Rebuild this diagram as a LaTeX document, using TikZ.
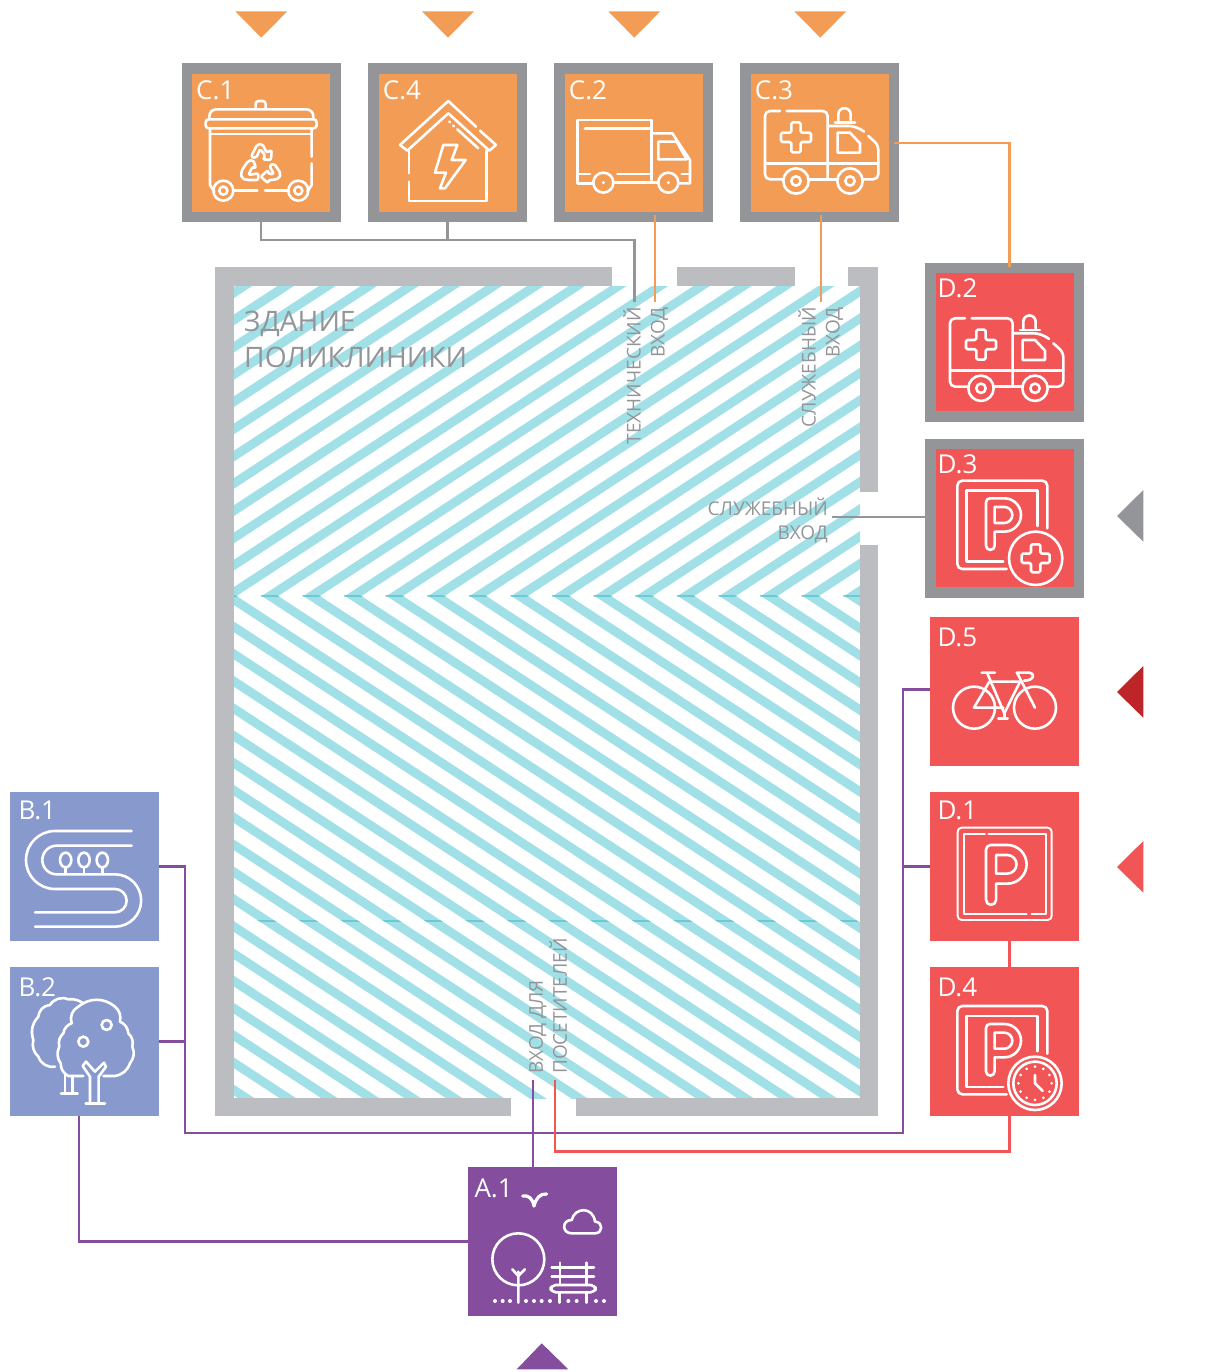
\documentclass[tikz,border=0pt]{standalone}
\usepackage{fontspec}
\setmainfont{Open Sans}
\usepackage{tikz}
\usetikzlibrary{positioning}
\definecolor{ClinicGrey}{HTML}{939598}
\definecolor{ClinicWall}{HTML}{BCBDC1}
\definecolor{ClinicCyan}{HTML}{A0E0E6}
\definecolor{ClinicSeam}{HTML}{6CCAD4}
\definecolor{ClinicOrange}{HTML}{F39C55}
\definecolor{ClinicRed}{HTML}{F15555}
\definecolor{ClinicDeep}{HTML}{BE2528}
\definecolor{ClinicBlue}{HTML}{8899CE}
\definecolor{ClinicViolet}{HTML}{844D9E}

% stripes of the building, #1 is the style
\newcommand{\stripesup}[1]{\foreach \k in {-13,...,15}
  \draw[#1] ({270+41.6*\k-30},{596+30*.655}) -- ({270+41.6*\k+510},{596-510*.655});}
\newcommand{\stripesdown}[1]{\foreach \k in {-21,...,15}
  \draw[#1] ({270+41.6*\k-30},{596-30*.655}) -- ({270+41.6*\k+800},{596+800*.655});}
% plus sign: centre x, centre y, half width, half length
\newcommand{\plusico}[4]{\begin{scope}[shift={(#1,#2)}]
  \draw[ico,rounded corners=1.5pt] (-#3,-#4) -- (#3,-#4) -- (#3,-#3) -- (#4,-#3) -- (#4,#3) -- (#3,#3)
    -- (#3,#4) -- (-#3,#4) -- (-#3,#3) -- (-#4,#3) -- (-#4,-#3) -- (-#3,-#3) -- cycle;
\end{scope}}
% parking letter: left, top, scale
\newcommand{\parkico}[3]{\begin{scope}[shift={(#1,#2)},scale=#3]
  \draw[ico] (0,142) arc[start angle=180,end angle=0,radius=13] -- (26,100) -- (55,100)
    arc[start angle=90,end angle=-90,radius=50] -- (12,0) arc[start angle=-90,end angle=-180,radius=12] -- cycle;
  \draw[ico] (26,26) -- (55,26) arc[start angle=-90,end angle=90,radius=24] -- (26,74) -- cycle;
\end{scope}}
% frame of the parking icons with a badge
\newcommand{\parkframe}[1]{\begin{scope}[shift={(0,#1)}]
  \draw[ico,rounded corners=5pt] (320,957) -- (172,957) -- (172,692) -- (442,692) -- (442,835);
  \draw[ico] (310,935) -- (200,935) -- (200,722) -- (412,722) -- (412,828);
\end{scope}}
\newcommand{\ambulanceico}{
  \draw[ico,rounded corners=5pt] (720,333) -- (675,333) -- (675,538) -- (730,538);
  \draw[ico,rounded corners=5pt] (740,333) -- (863,333) -- (863,535);
  \draw[ico] (678,490) -- (1015,490);
  \draw[ico] (808,538) -- (890,538);
  \draw[ico,rounded corners=5pt] (970,538) -- (1015,538) -- (1015,435) -- (985,408);
  \draw[ico,rounded corners=8pt] (863,378) -- (950,378) -- (972,395);
  \draw[ico] (893,398) -- (930,398) -- (960,430) -- (960,458) -- (893,458) -- cycle;
  \draw[ico] (885,368) -- (945,368);
  \draw[ico] (895,366) -- (895,343) arc[start angle=180,end angle=360,radius=18.5] -- (932,366);
  \draw[ico] (768,543) circle[radius=38] (768,543) circle[radius=14];
  \draw[ico] (930,543) circle[radius=38] (930,543) circle[radius=14];
  \plusico{768}{412}{14}{45}
}

\begin{document}
\begin{tikzpicture}[x=1pt,y=-1pt]
  \tikzset{
    stripe/.style={draw=ClinicCyan,line width=9pt},
    seam/.style={draw=ClinicSeam,line width=9pt},
    wall/.style={fill=ClinicWall},
    framebox/.style={draw=ClinicGrey,line width=10.5pt,minimum size=148.5pt,inner sep=0pt},
    plainbox/.style={minimum size=149pt,inner sep=0pt},
    tag/.style={text=white,font=\fontsize{26}{30}\selectfont,anchor=base west,inner sep=0pt},
    walltext/.style={text=ClinicGrey,inner sep=0pt,font=\fontsize{19}{24}\selectfont},
    ico/.style={draw=white,line width=2.6pt,line cap=round,line join=round},
    thin ico/.style={ico,line width=1.9pt},
    crop/.style 2 args={shift={(#1,#2)},x=.3333pt,y=-.3333pt},
    greyline/.style={draw=ClinicGrey,line width=2.7pt},
    orangeline/.style={draw=ClinicOrange,line width=2.7pt},
    violetline/.style={draw=ClinicViolet,line width=2.7pt},
    redline/.style={draw=ClinicRed,line width=2.7pt}
  }
  \useasboundingbox (0,0) rectangle (1211,1372);

  % building
  \begin{scope}
    \clip (234,286) rectangle (860,596);
    \stripesup{stripe}
  \end{scope}
  \begin{scope}
    \clip (234,596) rectangle (860,1098);
    \stripesdown{stripe}
  \end{scope}
  \begin{scope}
    \clip (234,595.5) rectangle (860,596.6);
    \stripesdown{seam}
  \end{scope}
  \begin{scope}
    \clip (234,920.6) rectangle (860,921.3);
    \stripesdown{seam}
  \end{scope}
  \fill[wall] (215,267) rectangle (612,286);
  \fill[wall] (677,267) rectangle (795,286);
  \fill[wall] (848,267) rectangle (877.5,286);
  \fill[wall] (215,267) rectangle (234,1116);
  \fill[wall] (859.5,267) rectangle (877.5,492);
  \fill[wall] (859.5,545) rectangle (877.5,1116);
  \fill[wall] (215,1098) rectangle (511,1116);
  \fill[wall] (576,1098) rectangle (877.5,1116);

  % boxes
  \node[framebox,fill=ClinicOrange] (c1) at (261,143) {};
  \node[framebox,fill=ClinicOrange] (c4) at (447.7,143) {};
  \node[framebox,fill=ClinicOrange] (c2) at (633.7,143) {};
  \node[framebox,fill=ClinicOrange] (c3) at (819.7,143) {};
  \node[framebox,fill=ClinicRed] (d2) at (1004.5,342.2) {};
  \node[framebox,fill=ClinicRed] (d3) at (1004.5,518.2) {};
  \node[plainbox,fill=ClinicRed] (d5) at (1004.5,691.5) {};
  \node[plainbox,fill=ClinicRed] (d1) at (1004.5,866.5) {};
  \node[plainbox,fill=ClinicRed] (d4) at (1004.5,1041.5) {};
  \node[plainbox,fill=ClinicBlue] (b1) at (84.5,866.5) {};
  \node[plainbox,fill=ClinicBlue] (b2) at (84.5,1041.5) {};
  \node[plainbox,fill=ClinicViolet] (a1) at (542.5,1241.5) {};

  \node[tag] (c1tag) at ([shift={(14.5,36)}]c1.north west) {C.1};
  \node[tag] (c4tag) at ([shift={(14.5,36)}]c4.north west) {C.4};
  \node[tag] (c2tag) at ([shift={(14.5,36)}]c2.north west) {C.2};
  \node[tag] (c3tag) at ([shift={(14.5,36)}]c3.north west) {C.3};
  \node[tag] (d2tag) at ([shift={(12.5,34.5)}]d2.north west) {D.2};
  \node[tag] (d3tag) at ([shift={(12.5,34.5)}]d3.north west) {D.3};
  \node[tag] (d5tag) at ([shift={(7.5,29.5)}]d5.north west) {D.5};
  \node[tag] (d1tag) at ([shift={(7.5,27.5)}]d1.north west) {D.1};
  \node[tag] (d4tag) at ([shift={(7.5,29.5)}]d4.north west) {D.4};
  \node[tag] (b1tag) at ([shift={(8.5,28)}]b1.north west) {B.1};
  \node[tag] (b2tag) at ([shift={(8.5,29.5)}]b2.north west) {B.2};
  \node[tag] (a1tag) at ([shift={(6.5,30.5)}]a1.north west) {A.1};

  % labels
  \node[text=ClinicGrey,inner sep=0pt,anchor=north west,align=left,font=\fontsize{28.2}{36}\selectfont]
    (house) at (244,311) {ЗДАНИЕ\\ПОЛИКЛИНИКИ};
  \node[walltext,rotate=90,anchor=north east,align=right] (techtext) at (623,307) {ТЕХНИЧЕСКИЙ\\ВХОД};
  \node[walltext,rotate=90,anchor=north east,align=right] (stafftext) at (798,307) {СЛУЖЕБНЫЙ\\ВХОД};
  \node[walltext,anchor=north east,align=right] (sidetext) at (828,498) {СЛУЖЕБНЫЙ\\ВХОД};
  \node[walltext,rotate=90,anchor=north west,align=left] (visittext) at (529,1074) {ВХОД ДЛЯ\\ПОСЕТИТЕЛЕЙ};

  % connectors
  \coordinate (techbus) at (634.5,240);
  \coordinate (techdoor) at (634.5,302);
  \coordinate (techorange) at (655,302);
  \coordinate (staffdoor) at (821,302);
  \coordinate (sidedoor) at (832,517);
  \coordinate (busleft) at (185,1133);
  \coordinate (busright) at (903,1133);
  \coordinate (visitdoor) at (533,1080);
  \coordinate (redcorner) at (555,1151.5);
  \coordinate (reddoor) at (555,1080);
  \draw[greyline] (c1.south) |- (techbus) -- (techdoor);
  \draw[greyline] (c4.south) -- (c4.south |- techbus);
  \draw[greyline] (sidedoor -| d3.west) -- (sidedoor);
  \draw[orangeline] ([shift={(21.3pt,7pt)}]c2.south) -- (techorange);
  \draw[orangeline] ([shift={(1.3pt,7pt)}]c3.south) -- (staffdoor);
  \draw[orangeline] ([xshift=-5pt]c3.east) -| ([shift={(4.7pt,-4pt)}]d2.north);
  \draw[violetline] (b1.east) -| (busleft) -- (busright) |- ([yshift=2pt]d5.west);
  \draw[violetline] (b2.east) -- (b2.east -| busleft);
  \draw[violetline] (d1.west) -- (d1.west -| busright);
  \draw[violetline] ([xshift=-9.5pt]a1.north) -- (visitdoor);
  \draw[violetline] ([xshift=-5.5pt]b2.south) |- (a1.west);
  \draw[redline] ([xshift=5pt]d1.south) -- ([xshift=5pt]d4.north);
  \draw[redline] ([xshift=5pt]d4.south) |- (redcorner) -- (reddoor);

  % entrance marks
  \foreach \x in {261.3,448,634.3,820.3}
    \fill[ClinicOrange] (\x-26,11.3) -- (\x+26,11.3) -- (\x,37.7) -- cycle;
  \fill[ClinicGrey] (1117,516) -- (1143.3,490) -- (1143.3,541.7) -- cycle;
  \fill[ClinicDeep] (1117,692) -- (1143.3,666) -- (1143.3,717.7) -- cycle;
  \fill[ClinicRed] (1117,867) -- (1143.3,841) -- (1143.3,892.7) -- cycle;
  \fill[ClinicViolet] (541.7,1343.3) -- (568.3,1369.3) -- (516.7,1369.3) -- cycle;

  % C.1 bin
  \begin{scope}[crop={170}{0}]
    \draw[ico,rounded corners=3pt] (257,327) -- (257,303) -- (287,303) -- (287,327);
    \draw[ico,rounded corners=7pt] (118,356) -- (118,328) -- (430,328) -- (430,356);
    \draw[ico,rounded corners=3pt] (107,358) rectangle (440,385);
    \draw[ico] (120,402) -- (425,402);
    \draw[ico] (120,385) -- (120,555) -- (133,575);
    \draw[ico] (425,385) -- (425,470) (425,490) -- (425,555) -- (412,575);
    \draw[ico] (160,572) circle[radius=30] (160,572) circle[radius=12];
    \draw[ico] (385,572) circle[radius=30] (385,572) circle[radius=12];
    \draw[ico] (190,572) -- (262,572) (285,572) -- (355,572);
    \draw[ico,rounded corners=2pt] (243,470) -- (262,433) -- (277,432) -- (290,458) -- (305,450) -- (303,480)
      -- (278,478) -- (287,468) -- (270,447) -- (258,475) -- cycle;
    \draw[ico,rounded corners=2pt] (235,482) -- (213,515) -- (215,535) -- (230,540) -- (265,540) -- (265,520)
      -- (235,525) -- (248,500) -- (258,505) -- (250,480) -- cycle;
    \draw[ico,rounded corners=2pt] (312,490) -- (332,520) -- (328,535) -- (310,540) -- (295,540) -- (295,550)
      -- (272,530) -- (295,510) -- (295,522) -- (312,522) -- (298,498) -- cycle;
  \end{scope}

  % C.4 house
  \begin{scope}[crop={170}{0}]
    \draw[ico] (918,380) -- (835,303) -- (690,435) -- (712,452) -- (835,340) -- (958,452) -- (978,435) -- (930,392);
    \draw[ico] (838,365) -- (840,367) (850,377) -- (852,379) (862,388) -- (925,445);
    \draw[ico] (717,450) -- (717,520) (717,545) -- (717,603) -- (950,603) -- (950,450);
    \draw[ico] (820,435) -- (862,435) -- (845,480) -- (887,480) -- (825,565) -- (810,565) -- (828,518) -- (795,518) -- cycle;
  \end{scope}

  % C.2 truck
  \begin{scope}[crop={540}{0}]
    \draw[ico] (160,550) -- (113,550) -- (113,360) -- (335,360) -- (335,540);
    \draw[ico] (135,385) -- (330,385);
    \draw[ico] (335,400) -- (397,400) -- (450,480) -- (450,550) -- (415,550);
    \draw[ico] (355,425) -- (410,425) -- (440,478) -- (355,478) -- cycle;
    \draw[ico] (115,522) -- (150,522) (232,522) -- (330,522) (425,522) -- (450,522);
    \draw[ico] (222,548) -- (355,548);
    \draw[ico] (190,548) circle[radius=30] (385,548) circle[radius=30];
    \fill[white] (190,548) circle[radius=5] (385,548) circle[radius=5];
  \end{scope}

  % C.3 and D.2 ambulance
  \begin{scope}[crop={540}{0}]
    \ambulanceico
  \end{scope}
  \begin{scope}[crop={725}{207.3}]
    \ambulanceico
  \end{scope}

  % D.3 parking with plus
  \begin{scope}[crop={900}{250}]
    \parkframe{0}
    \parkico{258}{745}{1}
    \draw[ico] (407,925) circle[radius=80];
    \plusico{407}{925}{14}{42}
  \end{scope}

  % D.5 bicycle
  \begin{scope}[crop={900}{610}]
    \draw[ico] (222,293) circle[radius=63] (405,293) circle[radius=63];
    \draw[ico] (245,188) -- (285,188) (262,190) -- (313,310) -- (360,215) -- (270,215);
    \draw[ico] (222,293) -- (268,215) (222,293) -- (310,293);
    \draw[ico] (405,293) -- (352,190);
    \draw[ico] (350,188) -- (388,188) .. controls (405,188) and (405,212) .. (372,212);
    \draw[ico] (295,325) -- (323,325) (313,310) -- (313,325);
  \end{scope}

  % D.1 parking
  \begin{scope}[crop={900}{610}]
    \draw[thin ico,rounded corners=4pt] (173,653) rectangle (455,930);
    \draw[thin ico] (255,672) -- (192,672) -- (192,912) -- (380,912) (395,912) -- (437,912) -- (437,672) -- (265,672);
    \parkico{258}{705}{1.16}
  \end{scope}

  % D.4 parking with clock
  \begin{scope}[crop={900}{950}]
    \parkframe{-524}
    \parkico{258}{222}{1}
    \draw[ico] (405,400) circle[radius=80] (405,400) circle[radius=65];
    \draw[ico] (405,375) -- (405,400) -- (428,423);
    \foreach \a in {0,30,...,330}
      \fill[white] (405,400) ++(\a:50) circle[radius=4.5];
  \end{scope}

  % B.1 track
  \begin{scope}[crop={0}{780}]
    \draw[ico] (395,153) -- (165,153) arc[start angle=-90,end angle=-270,radius=87] -- (345,327)
      arc[start angle=-90,end angle=90,radius=35] -- (105,397);
    \draw[ico] (395,197) -- (170,197) arc[start angle=-90,end angle=-270,radius=43] -- (345,283)
      arc[start angle=-90,end angle=90,radius=78.5] -- (105,440);
    \foreach \x in {197,252,307} {
      \draw[ico] (\x,240) ellipse[x radius=17,y radius=22];
      \draw[ico] (\x,262) -- (\x,283);
    }
  \end{scope}

  % B.2 trees
  \begin{scope}[crop={0}{780}]
    \draw[ico] (250,888) -- (205,888) to[bend left=30] (182,850) to[bend left=30] (178,800) to[bend left=30] (190,760)
      to[bend left=30] (215,730) to[bend left=40] (235,680) to[bend left=40] (345,680) to[bend left=30] (360,725)
      to[bend left=30] (385,760) to[bend left=30] (397,800) to[bend left=30] (390,850) to[bend left=30] (345,888) -- (310,888);
    \draw[ico] (165,860) to[bend left=40] (115,830) to[bend left=30] (100,780) to[bend left=30] (115,710)
      to[bend left=40] (150,675) to[bend left=40] (205,658) to[bend left=20] (250,670);
    \draw[ico] (250,785) circle[radius=15] (320,735) circle[radius=15];
    \draw[ico] (270,965) -- (270,890) -- (248,858) -- (258,845) -- (285,875) -- (312,848) -- (318,860) -- (296,890) -- (296,965);
    \draw[ico] (257,970) -- (315,970);
    \draw[ico] (195,885) -- (195,940) (218,888) -- (218,940) (183,941) -- (233,941);
  \end{scope}

  % A.1 park
  \begin{scope}[crop={440}{1080}]
    \draw[ico,line width=3.2pt] (248,348) .. controls (265,345) and (278,355) .. (282,378);
    \draw[ico,line width=3.2pt] (320,342) .. controls (300,340) and (288,355) .. (282,378);
    \draw[ico] (395,460) .. controls (365,460) and (365,420) .. (395,420) .. controls (405,380) and (460,380) .. (465,425)
      .. controls (490,425) and (490,460) .. (465,460) -- cycle;
    \draw[ico] (235,538) circle[radius=78];
    \draw[ico] (235,575) -- (235,668) (217,568) -- (235,588) -- (255,568);
    \draw[ico] (335,562) -- (462,562) (335,590) -- (462,590);
    \draw[ico] (360,548) -- (360,615) (440,548) -- (440,615);
    \draw[ico,rounded corners=5pt] (332,637) -- (332,615) -- (467,615) -- (467,637) -- cycle;
    \draw[ico] (358,637) -- (358,668) (440,637) -- (440,668);
    \foreach \x in {165,188,210,258,282,305,330,385,410,468,492}
      \fill[white] (\x,663) circle[radius=6];
  \end{scope}
\end{tikzpicture}
\end{document}
